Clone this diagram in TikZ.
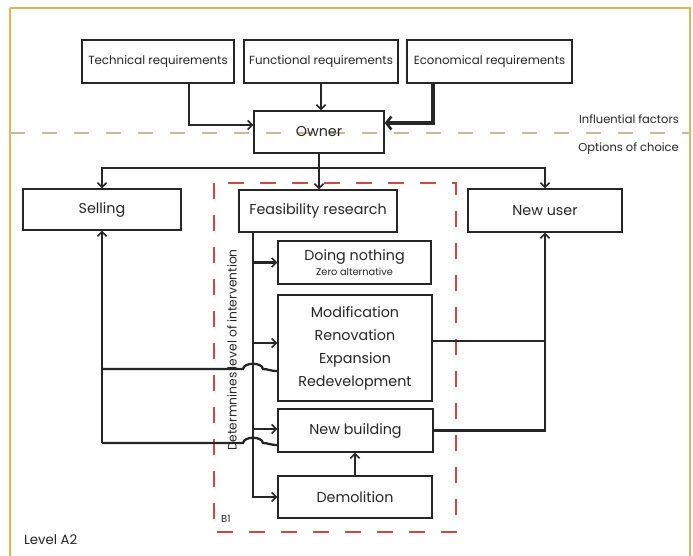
\documentclass[tikz,border=0pt]{standalone}
\usepackage{fontspec}
\setmainfont{Poppins}
\usetikzlibrary{arrows.meta}
\definecolor{ink}{HTML}{262626}
\definecolor{frame}{HTML}{E6B34C}
\definecolor{tan}{HTML}{C9B89E}
\definecolor{redline}{HTML}{D24545}
\tikzset{
  box/.style={draw=ink, line width=1.4pt, rectangle, inner sep=0pt, text=ink, align=center},
  reqbox/.style={box, minimum height=43pt, font=\fontsize{11.8}{13}\selectfont},
  bigbox/.style={box, font=\fontsize{14.3}{23}\selectfont},
  link/.style={draw=ink, line width=2.3pt},
  arr/.style={link, -{Straight Barb[length=4.5pt,width=9pt,line width=1.5pt]}},
  note/.style={text=ink, inner sep=0pt}
}
\begin{document}
\begin{tikzpicture}[x=1pt,y=-1pt]
\useasboundingbox (0,0) rectangle (693,556);
\fill[white] (0,0) rectangle (693,556);
% outer frame
\draw[frame, line width=1.8pt] (10,8) -- (10,560);
\draw[frame, line width=1.8pt] (10,8) -- (690,8) -- (690,560);
% separation between influential factors and options of choice
\draw[tan, line width=1.2pt, dash pattern=on 15pt off 17pt] (10,133) -- (690,133);
\node[note, anchor=east, font=\fontsize{11.5}{13}\selectfont] (inf) at (679,119) {Influential factors};
\node[note, anchor=east, font=\fontsize{11.5}{13}\selectfont] (opt) at (679,149) {Options of choice};
% feasibility area
\draw[redline, line width=1.3pt, dash pattern=on 16pt off 16pt] (214,183) rectangle (456,532);

% requirements
\node[reqbox, minimum width=152pt] (tech) at (158,61.5) {Technical requirements};
\node[reqbox, minimum width=154pt] (func) at (321,61.5) {Functional requirements};
\node[reqbox, minimum width=165pt] (econ) at (489.5,61.5) {Economical requirements};
\node[bigbox, minimum width=130pt, minimum height=42pt] (owner) at (319,132) {Owner};

% options
\node[bigbox, minimum width=158pt, minimum height=41pt] (selling) at (102,209.5) {Selling};
\node[bigbox, minimum width=158pt, minimum height=42pt] (feas) at (318,211) {Feasibility research};
\node[bigbox, minimum width=154pt, minimum height=43pt] (newuser) at (545,210.5) {New user};
\node[bigbox, minimum width=153pt, minimum height=43pt] (nothing) at (354.5,262.5)
  {Doing nothing\\[-8pt]{\fontsize{9.8}{11}\selectfont Zero alternative}};
\node[bigbox, minimum width=154pt, minimum height=106pt] (modif) at (355,348)
  {Modification\\Renovation\\Expansion\\Redevelopment};
\node[bigbox, minimum width=155pt, minimum height=43pt] (newbld) at (355.5,430.5) {New building};
\node[bigbox, minimum width=154pt, minimum height=42pt] (demol) at (355,497) {Demolition};

\node[note, rotate=90, font=\fontsize{12.3}{14}\selectfont] (level) at (232,350) {Determnines level of intervention};
\node[note, font=\fontsize{10}{12}\selectfont, anchor=west] (b1) at (221,519) {B1};
\node[note, font=\fontsize{13.3}{15}\selectfont, anchor=west] (a2) at (24,540) {Level A2};

% requirements to owner
\draw[arr] ([xshift=31pt]tech.south) |- ([yshift=7pt]owner.west);
\draw[arr] (func.south) -- (func.south |- owner.north);
\draw[draw=ink, line width=4.8pt, -{Straight Barb[length=5pt,width=13pt,line width=2.6pt]}]
  ([xshift=-56.5pt]econ.south) |- ([yshift=9pt]owner.east);

% owner to options
\coordinate (bus) at (owner.south |- 0,168);
\draw[link] (owner.south) -- (bus);
\draw[arr] (bus) -| (selling.north);
\draw[arr] (bus) -| (newuser.north);
\draw[arr] (bus) -- (bus |- feas.north);

% levels of intervention
\coordinate (trunk) at ([xshift=-65pt]feas.south);
\draw[arr] (trunk) |- (demol.west);
\draw[arr] (trunk |- nothing.west) -- (nothing.west);
\draw[arr] (trunk |- 0,343) -- (modif.west |- 0,343);
\draw[arr] (trunk |- 0,429) -- (newbld.west |- 0,429);
\draw[arr] (demol.north) -- (demol.north |- newbld.south);

% back to selling, hopping over the trunk
\draw[link] (modif.west |- 0,371) .. controls (270,371) and (268,369) .. (263,369)
  .. controls (262,362) and (244,362) .. (243,369) -- (selling.south |- 0,369);
\draw[link] (newbld.west |- 0,445) .. controls (270,445) and (268,443) .. (263,443)
  .. controls (262,436) and (244,436) .. (243,443) -- (selling.south |- 0,443);
\draw[arr] (selling.south |- 0,443) -- (selling.south);

% on to a new user
\draw[link] (modif.east |- 0,341) -- (newuser.south |- 0,341);
\draw[arr] (newbld.east) -- (newuser.south |- newbld.east) -- (newuser.south);
\end{tikzpicture}
\end{document}
